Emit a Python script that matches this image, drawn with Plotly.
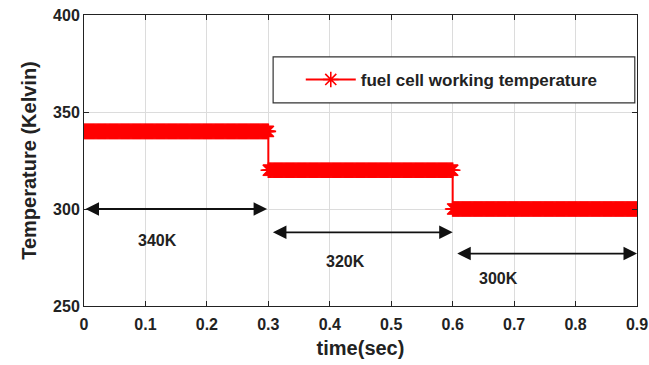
import numpy as np
import plotly.graph_objects as go

# Setpoint schedule: working temperature held for each interval
seg_start = [0.0, 0.3, 0.6]
seg_end = [0.3, 0.6, 0.9]
seg_temp = [340, 320, 300]
seg_label = ["340K", "320K", "300K"]

# Double-arrow annotations marking each interval
arrow_x0 = [0.0, 0.305, 0.605]
arrow_x1 = [0.298, 0.6, 0.9]
arrow_y = [300, 288, 277]
label_x = [0.12, 0.425, 0.675]
label_y = [284, 273, 264]

x_ticks = [0, 0.1, 0.2, 0.3, 0.4, 0.5, 0.6, 0.7, 0.8, 0.9]
y_ticks = [250, 300, 350, 400]

# Sampled signal (dense samples so the star markers form a solid band)
t_parts, T_parts = [], []
for s, e, v in zip(seg_start, seg_end, seg_temp):
    tt = np.arange(s, e + 1e-9, 0.0015)
    t_parts.append(tt)
    T_parts.append(np.full_like(tt, v, dtype=float))
t = np.concatenate(t_parts)
T = np.concatenate(T_parts)

fig = go.Figure()
fig.add_trace(go.Scatter(
    x=t, y=T, mode="lines+markers",
    name="<b>fuel cell working temperature</b>",
    line=dict(color="#ff0000", width=2),
    marker=dict(symbol="asterisk-open", size=13, color="#ff0000",
                line=dict(color="#ff0000", width=1.6)),
))

font_b = "Liberation Sans"
anns = []
for x0, x1, y in zip(arrow_x0, arrow_x1, arrow_y):
    anns.append(dict(x=x1, y=y, ax=x0, ay=y, xref="x", yref="y",
                     axref="x", ayref="y", text="", showarrow=True,
                     arrowhead=2, startarrowhead=2, arrowside="end+start",
                     arrowsize=1.5, startarrowsize=1.5, arrowwidth=1.8,
                     arrowcolor="#111"))
for x, y, s in zip(label_x, label_y, seg_label):
    anns.append(dict(x=x, y=y, xref="x", yref="y", text="<b>%s</b>" % s,
                     showarrow=False, font=dict(family=font_b, size=16, color="#222")))

# Legend frame
fig.add_shape(type="rect", xref="paper", yref="paper",
              x0=0.342, x1=0.996, y0=0.698, y1=0.856,
              line=dict(color="#333", width=1.2), fillcolor="white", layer="above")

fig.update_layout(
    width=649, height=365,
    margin=dict(l=84, r=12, t=15, b=59),
    paper_bgcolor="white", plot_bgcolor="white",
    font=dict(family=font_b, color="#222"),
    annotations=anns,
    showlegend=True,
    legend=dict(x=0.392, y=0.777, xanchor="left", yanchor="middle",
                bgcolor="rgba(0,0,0,0)", borderwidth=0,
                font=dict(family=font_b, size=17, color="#222"),
                itemwidth=50),
    xaxis=dict(range=[0, 0.9], tickvals=x_ticks,
               ticktext=["<b>%g</b>" % v for v in x_ticks],
               tickfont=dict(size=16), showgrid=True, gridcolor="#dcdcdc",
               zeroline=False, showline=True, linecolor="#222", mirror="ticks",
               ticks="inside", ticklen=5, tickcolor="#222", automargin=False,
               ticklabelstandoff=4,
               title=dict(text="<b>time(sec)</b>", font=dict(size=20), standoff=8)),
    yaxis=dict(range=[250, 400], tickvals=y_ticks,
               ticktext=["<b>%d</b>" % v for v in y_ticks],
               tickfont=dict(size=16), showgrid=True, gridcolor="#dcdcdc",
               zeroline=False, showline=True, linecolor="#222", mirror="ticks",
               ticks="inside", ticklen=5, tickcolor="#222", automargin=False,
               title=dict(text="<b>Temperature (Kelvin)</b>", font=dict(size=20), standoff=11)),
)

fig.write_html("out.html")
